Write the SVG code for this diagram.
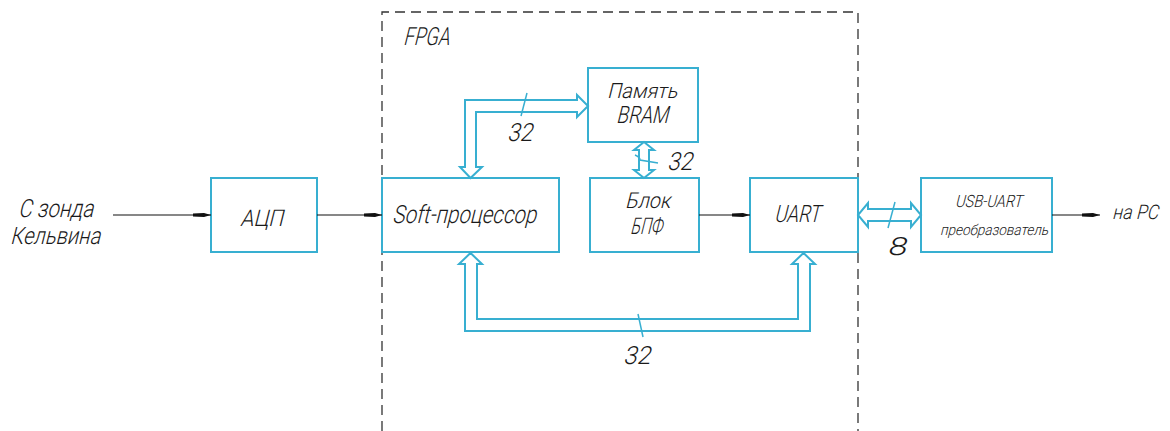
<svg xmlns="http://www.w3.org/2000/svg" width="1170" height="431" viewBox="0 0 1170 431">
  <defs>
    <style>
      .blk { fill: none; stroke: #38afd1; stroke-width: 2; }
      .bus { fill: none; stroke: #38afd1; stroke-width: 2; stroke-linejoin: miter; }
      .tick { stroke: #38afd1; stroke-width: 1.5; }
      .sig { stroke: #111; stroke-width: 1.2; fill: none; }
      .frame { fill: none; stroke: #333; stroke-width: 1.3; stroke-dasharray: 10 6; }
      .lbl { font-family: Roboto, "Liberation Sans", sans-serif; font-style: normal; font-weight: 300; fill: #1a1a1a; }
    </style>
    <marker id="ah" markerUnits="userSpaceOnUse" markerWidth="20" markerHeight="8" refX="18" refY="4" orient="auto">
      <path d="M0,2.6 L11,2 L18,4 L11,6 L0,5.4 Z" fill="#111"/>
    </marker>
  </defs>

  <!-- FPGA boundary -->
  <g id="fpga">
    <path class="frame" d="M382,431 L382,12 L858,12 L858,431"/>
    <text class="lbl" transform="translate(403,45) skewX(-14)" font-size="25" textLength="46" lengthAdjust="spacingAndGlyphs">FPGA</text>
  </g>

  <!-- source label (slanted drafting lettering) -->
  <g id="source">
    <text class="lbl" transform="translate(18,217) skewX(-14)" font-size="25" textLength="75" lengthAdjust="spacingAndGlyphs">С зонда</text>
    <text class="lbl" transform="translate(10,244) skewX(-14)" font-size="24" textLength="90" lengthAdjust="spacingAndGlyphs">Кельвина</text>
  </g>

  <g id="adc">
    <rect class="blk" x="211" y="178" width="106" height="74"/>
    <text class="lbl" transform="translate(240,226) skewX(-14)" font-size="23" textLength="43" lengthAdjust="spacingAndGlyphs">АЦП</text>
  </g>

  <g id="cpu">
    <rect class="blk" x="382" y="178" width="177" height="74"/>
    <text class="lbl" transform="translate(392,223) skewX(-14)" font-size="25" textLength="144" lengthAdjust="spacingAndGlyphs">Soft-процессор</text>
  </g>

  <g id="bram">
    <rect class="blk" x="588" y="68" width="110" height="74"/>
    <text class="lbl" transform="translate(607,98) skewX(-14)" font-size="21" textLength="70" lengthAdjust="spacingAndGlyphs">Память</text>
    <text class="lbl" transform="translate(616,123) skewX(-14)" font-size="24" textLength="52" lengthAdjust="spacingAndGlyphs">BRAM</text>
  </g>

  <g id="fft">
    <rect class="blk" x="590" y="178" width="109" height="74"/>
    <text class="lbl" transform="translate(625,208) skewX(-14)" font-size="22" textLength="45" lengthAdjust="spacingAndGlyphs">Блок</text>
    <text class="lbl" transform="translate(630,234) skewX(-14)" font-size="23" textLength="32" lengthAdjust="spacingAndGlyphs">БПФ</text>
  </g>

  <g id="uart">
    <rect class="blk" x="750" y="178" width="108" height="74"/>
    <text class="lbl" transform="translate(774,222) skewX(-14)" font-size="24" textLength="46" lengthAdjust="spacingAndGlyphs">UART</text>
  </g>

  <g id="usb">
    <rect class="blk" x="921" y="178" width="131" height="74"/>
    <text class="lbl" transform="translate(955,207) skewX(-14)" font-size="17" textLength="67" lengthAdjust="spacingAndGlyphs">USB-UART</text>
    <text class="lbl" transform="translate(940,235) skewX(-14)" font-size="15" textLength="108" lengthAdjust="spacingAndGlyphs">преобразователь</text>
  </g>

  <g id="pc">
    <text class="lbl" transform="translate(1112,219) skewX(-14)" font-size="20" textLength="46" lengthAdjust="spacingAndGlyphs">на PC</text>
  </g>

  <!-- signal lines and buses -->
  <g id="connectors">
    <line class="sig" x1="113" y1="215" x2="211" y2="215" marker-end="url(#ah)"/>
    <line class="sig" x1="317" y1="215" x2="382" y2="215" marker-end="url(#ah)"/>
    <line class="sig" x1="699" y1="215" x2="750" y2="215" marker-end="url(#ah)"/>
    <line class="sig" x1="1052" y1="215" x2="1100" y2="215" marker-end="url(#ah)"/>

    <!-- CPU to BRAM bus -->
    <path class="bus" d="M465,167 L460,167 L470.5,178 L482,167 L476,167 L476,112 L577,112 L577,117 L588,106 L577,95 L577,100 L465,100 Z"/>
    <line class="tick" x1="527" y1="93" x2="521" y2="116"/>
    <text class="lbl" transform="translate(507,141) skewX(-14)" font-size="25" textLength="25" lengthAdjust="spacingAndGlyphs">32</text>

    <!-- BRAM to FFT bus -->
    <path class="bus" d="M639,150 L634,150 L644,142 L654,150 L649,150 L649,170 L654,170 L644,178 L634,170 L639,170 Z"/>
    <path class="tick" fill="none" d="M635,155 Q640,157 640,160 L658,163"/>
    <text class="lbl" transform="translate(667,170) skewX(-14)" font-size="25" textLength="25" lengthAdjust="spacingAndGlyphs">32</text>

    <!-- CPU to UART bus -->
    <path class="bus" d="M465,264 L459,264 L470.5,253 L482,264 L477,264 L477,319 L798,319 L798,264 L792,264 L803.5,253 L815,264 L810,264 L810,331 L465,331 Z"/>
    <line class="tick" x1="638" y1="314" x2="643" y2="337"/>
    <text class="lbl" transform="translate(623,364) skewX(-14)" font-size="25" textLength="27" lengthAdjust="spacingAndGlyphs">32</text>

    <!-- UART to USB bus -->
    <path class="bus" d="M868,209 L868,203 L858,215 L868,227 L868,221 L911,221 L911,227 L921,215 L911,203 L911,209 Z"/>
    <line class="tick" x1="895" y1="202" x2="888" y2="228"/>
    <text class="lbl" transform="translate(887,255) skewX(-14)" font-size="25" textLength="19" lengthAdjust="spacingAndGlyphs">8</text>
  </g>
</svg>
